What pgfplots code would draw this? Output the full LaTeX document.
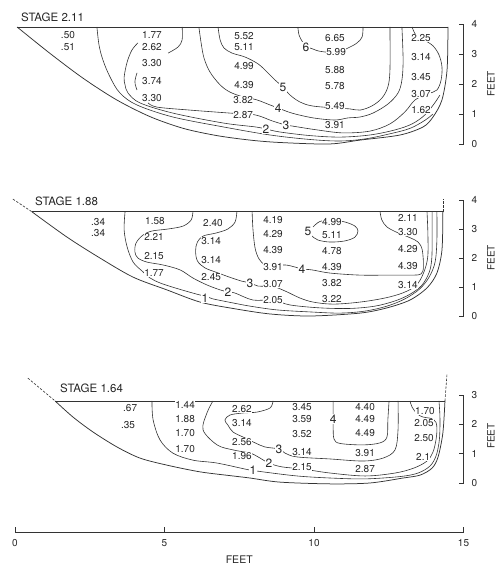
\documentclass[border=0pt]{standalone}
\usepackage{pgfplots}
\pgfplotsset{compat=1.18}
\usepackage{fontspec}
\setmainfont{TeX Gyre Heros}
\newcommand\valfont{\fontsize{10}{11}\selectfont}
\newcommand\cfont{\fontsize{12}{13}\selectfont}
\newcommand\tfont{\fontsize{11.5}{12}\selectfont}
\definecolor{ink}{gray}{0.2}
\definecolor{tink}{gray}{0.15}
\pgfplotsset{
  panel/.style={
    x=29.9pt, xmin=0, xmax=15, ymin=0,
    axis x line=none, axis y line*=right,
    clip=false, anchor=south west,
    tick align=inside, major tick length=5pt,
    tick style={ink, line width=0.6pt},
    axis line style={ink, line width=0.6pt},
    yticklabel style={font=\valfont, text=tink, xshift=4.5pt},
    /pgf/number format/assume math mode=true,
  },
  cont/.style={ink, line width=0.6pt, smooth, tension=0.55, mark=none},
  bedl/.style={ink, line width=0.75pt, smooth, tension=0.5, mark=none},
  surf/.style={ink, line width=0.8pt, mark=none},
  dsh/.style={ink, line width=0.6pt, dash pattern=on 2.5pt off 1.5pt, mark=none},
  vals/.style={draw=none, mark=none, nodes near coords, point meta=explicit symbolic,
     every node near coord/.append style={anchor=center, font=\valfont, text=tink, fill=white, inner sep=0.4pt}},
  clabs/.style={draw=none, mark=none, nodes near coords, point meta=explicit symbolic,
     every node near coord/.append style={anchor=center, font=\cfont, text=tink, fill=white, inner sep=0.6pt}},
}
\begin{document}
\begin{tikzpicture}
\useasboundingbox (0,0) rectangle (500pt,567pt);
\node[anchor=west, font=\tfont, text=tink, inner sep=0] at (21pt,550pt) {STAGE 2.11};
\node[anchor=west, font=\tfont, text=tink, inner sep=0] at (35pt,366pt) {STAGE 1.88};
\node[anchor=west, font=\tfont, text=tink, inner sep=0] at (60pt,179pt) {STAGE 1.64};

% ---------------- Panel 1: stage 2.11
\begin{axis}[panel, y=30pt, ymax=4, ytick={0,1,2,3,4}, at={(15pt,423pt)}]
\addplot[cont] coordinates {(2.74,3.9)(2.81,3.3)(2.94,2.8)(3.18,2.23)(3.51,1.7)(4.08,1.3)(5.28,0.9)(6.96,0.57)(8.53,0.3)(9.87,0.15)(10.87,0.1)(11.71,0.17)(12.54,0.34)(13.21,0.52)(13.71,0.79)(13.98,1.0)};
\addplot[cont] coordinates {(5.59,3.9)(5.59,3.47)(5.45,3.23)(5.12,3.03)};
\addplot[cont] coordinates {(4.11,3.37)(3.91,3.13)(3.75,2.73)(3.65,2.23)(3.68,1.97)(3.78,1.7)(4.18,1.37)(5.28,1.03)(6.96,0.7)(8.03,0.57)(8.39,0.5)(8.86,0.4)(9.87,0.28)(10.87,0.23)(11.87,0.3)(12.71,0.47)(13.28,0.67)(13.71,0.97)(14.01,1.33)(14.21,1.63)};
\addplot[cont] coordinates {(4.08,2.37)(4.01,2.07)(4.08,1.8)};
\addplot[cont] coordinates {(4.45,1.37)(4.75,1.23)(5.85,1.13)(7.19,1.03)(8.03,0.97)(8.60,0.77)(9.06,0.63)(9.26,0.6)(10.10,0.47)(10.97,0.37)(11.87,0.43)(12.54,0.67)(13.04,1.07)(13.38,1.47)(13.81,1.67)(14.11,1.8)(14.25,2.13)(14.28,2.57)(14.18,2.97)(13.98,3.27)(13.68,3.47)(13.41,3.63)(13.28,3.9)};
\addplot[cont] coordinates {(6.15,3.9)(6.22,3.4)(6.32,2.87)(6.52,2.4)(6.86,1.97)(7.19,1.73)(7.63,1.57)(8.09,1.47)(8.53,1.3)(8.80,1.2)(9.26,1.03)(9.97,0.87)(10.70,0.8)(11.14,0.87)(11.54,0.9)(11.97,1.03)(12.47,1.33)(12.81,1.7)(12.94,2.13)(12.98,2.8)(12.94,3.9)};
\addplot[cont] coordinates {(6.79,3.9)(6.86,3.47)(6.99,3.2)(7.26,3.03)(7.69,2.9)(8.13,2.67)(8.46,2.37)(8.70,2.13)(8.96,1.9)(9.20,1.63)(9.53,1.4)(9.93,1.27)(10.70,1.2)(11.20,1.17)(11.54,1.13)(11.94,1.27)(12.27,1.53)(12.47,1.9)(12.54,2.47)(12.54,3.9)};
\addplot[cont] coordinates {(9.46,3.9)(9.50,3.63)(9.60,3.43)(9.73,3.25)(9.93,3.18)(10.2,3.09)(10.74,3.05)(11.14,3.2)(11.44,3.37)(11.61,3.57)(11.64,3.9)};
\addplot[vals] table[meta=lab] {
x y lab
1.77 3.63 .50
1.77 3.23 .51
4.58 3.63 1.77
4.58 3.23 2.62
4.58 2.70 3.30
4.58 2.10 3.74
4.58 1.53 3.30
7.66 3.60 5.52
7.66 3.23 5.11
7.66 2.60 4.99
7.66 1.97 4.39
7.63 1.47 3.82
7.63 0.97 2.87
10.70 3.53 6.65
10.74 3.07 5.99
10.70 2.47 5.88
10.70 1.93 5.78
10.70 1.27 5.49
10.70 0.63 3.91
13.58 3.53 2.25
13.58 2.90 3.14
13.58 2.23 3.45
13.58 1.67 3.07
13.58 1.13 1.62
};
\addplot[clabs] table[meta=lab] {
x y lab
9.73 3.23 6
8.96 1.90 5
8.80 1.20 4
9.06 0.63 3
8.39 0.50 2
};
\addplot[surf] coordinates {(0.07,3.9)(14.48,3.9)};
\addplot[bedl] coordinates {(0.07,3.9)(1.17,3.02)(2.28,2.19)(3.40,1.47)(4.52,0.91)(5.63,0.52)(6.75,0.28)(7.86,0.13)(8.86,0.05)(10.5,0.0)(11.54,0.13)(12.88,0.3)(13.65,0.57)(13.98,0.9)(14.28,1.47)(14.45,2.47)(14.48,3.9)};
\node[rotate=90, font=\valfont, text=tink] at (axis cs:15.92,2) {FEET};
\end{axis}

% ---------------- Panel 2: stage 1.88
\begin{axis}[panel, y=29pt, ymax=4, ytick={0,1,2,3,4}, at={(15pt,251pt)}]
\addplot[cont] coordinates {(3.68,3.59)(3.65,2.97)(3.75,2.38)(3.95,1.86)(4.25,1.55)(4.52,1.31)(4.85,1.14)(5.35,0.97)(5.95,0.79)(6.42,0.66)(6.62,0.59)(7.29,0.45)(7.86,0.34)(8.76,0.21)(9.87,0.14)(10.87,0.10)(11.71,0.17)(12.44,0.34)(13.04,0.59)(13.53,0.93)(13.85,1.34)(14.05,1.86)(14.11,2.62)(14.11,3.59)};
\addplot[cont] coordinates {(5.95,3.59)(5.89,3.31)(5.62,3.10)(5.12,3.0)(4.58,2.93)(4.28,2.79)(4.05,2.52)(4.01,2.21)(4.11,2.0)(4.41,1.86)(4.95,1.76)(5.52,1.59)(5.95,1.31)(6.42,1.07)(6.86,0.90)(7.12,0.83)(7.36,0.79)(7.96,0.55)(8.63,0.55)(9.20,0.38)(10.20,0.28)(11.20,0.26)(12.04,0.34)(12.71,0.52)(13.21,0.75)(13.6,1.05)(13.85,1.5)(13.94,2.0)(13.95,2.97)(13.95,3.59)};
\addplot[cont] coordinates {(7.42,3.59)(7.36,3.24)(7.12,3.0)(6.72,2.86)(6.3,2.76)(6.1,2.55)(6.04,2.25)(6.1,1.9)(6.35,1.66)(6.75,1.5)(7.2,1.33)(7.59,1.2)(7.86,1.14)(8.13,1.03)(8.43,1.03)(8.70,1.0)(9.10,0.83)(9.53,0.62)(9.97,0.48)(10.64,0.41)(11.54,0.48)(12.37,0.62)(12.98,0.8)(13.41,1.05)(13.65,1.45)(13.8,2.0)(13.81,2.79)(13.78,3.59)};
\addplot[cont] coordinates {(7.93,3.59)(7.96,2.97)(8.03,2.34)(8.16,1.97)(8.36,1.76)(8.63,1.72)(9.03,1.76)(9.36,1.69)(9.60,1.62)(9.93,1.59)(10.54,1.48)(11.54,1.41)(12.54,1.41)(13.3,1.41)(13.58,1.45)(13.66,1.69)(13.62,2.28)(13.48,2.55)(13.21,2.70)(12.78,2.88)(12.44,3.07)(12.27,3.31)(12.21,3.59)};
\addplot[cont] coordinates {(9.97,3.07)(10.2,3.26)(10.6,3.31)(11.04,3.24)(11.37,3.10)(11.47,2.93)(11.37,2.72)(11.04,2.59)(10.54,2.55)(10.13,2.62)(9.93,2.76)};
\addplot[vals] table[meta=lab] {
x y lab
2.78 3.24 .34
2.78 2.86 .34
4.68 3.28 1.58
4.65 2.72 2.21
4.65 2.07 2.15
4.65 1.48 1.77
6.62 3.21 2.40
6.56 2.59 3.14
6.56 1.93 3.14
6.56 1.34 2.45
8.63 3.31 4.19
8.63 2.83 4.29
8.63 2.28 4.39
8.63 1.69 3.91
8.63 1.10 3.07
8.63 0.55 2.05
10.60 3.24 4.99
10.60 2.79 5.11
10.60 2.24 4.78
10.60 1.69 4.39
10.60 1.14 3.82
10.60 0.59 3.22
13.14 3.38 2.11
13.14 2.90 3.30
13.14 2.31 4.29
13.14 1.72 4.39
13.14 1.07 3.14
};
\addplot[clabs] table[meta=lab] {
x y lab
9.80 2.90 5
9.60 1.62 4
7.86 1.14 3
7.12 0.83 2
6.35 0.62 1
};
\addplot[surf] coordinates {(0.57,3.59)(14.31,3.59)};
\addplot[bedl] coordinates {(0.57,3.59)(1.74,2.72)(2.84,2.0)(3.95,1.34)(5.08,0.9)(6.19,0.48)(7.29,0.26)(8.53,0.07)(9.87,0.0)(11.54,0.1)(12.44,0.28)(13.21,0.55)(13.78,0.97)(14.11,1.48)(14.28,2.28)(14.31,3.59)};
\addplot[dsh] coordinates {(-0.07,4.03)(0.57,3.59)};
\addplot[dsh] coordinates {(14.31,3.59)(14.31,4.03)};
\node[rotate=90, font=\valfont, text=tink] at (axis cs:15.92,2) {FEET};
\end{axis}

% ---------------- Panel 3: stage 1.64
\begin{axis}[panel, y=29.3pt, ymax=3, ytick={0,1,2,3}, at={(15pt,84pt)}]
\addplot[cont] coordinates {(4.58,2.80)(4.62,2.15)(4.85,1.47)(5.28,1.02)(5.95,0.78)(6.76,0.68)(7.86,0.44)(8.29,0.38)(9.43,0.24)(10.54,0.17)(11.71,0.14)(12.88,0.22)(13.48,0.34)(13.88,0.58)(14.08,0.92)(14.18,1.37)(14.21,1.81)(14.21,2.32)(14.18,2.80)};
\addplot[cont] coordinates {(6.62,2.80)(6.42,2.39)(6.29,1.81)(6.76,1.30)(7.29,1.13)(7.86,1.02)(8.13,0.89)(8.49,0.68)(8.93,0.55)(9.60,0.48)(10.54,0.34)(11.71,0.24)(12.71,0.34)(13.34,0.51)(13.78,0.75)(13.98,1.06)(14.08,1.47)(14.11,1.81)(14.08,2.07)(13.92,2.2)(13.65,2.25)(13.45,2.36)(13.28,2.59)(13.21,2.80)};
\addplot[cont] coordinates {(8.63,2.80)(8.53,2.56)(8.09,2.42)(7.63,2.39)(7.19,2.32)(7.02,2.15)(7.12,1.98)(7.29,1.74)(7.69,1.54)(8.03,1.37)(8.36,1.23)(8.83,1.16)(9.03,1.02)(9.43,0.89)(10.54,0.82)(11.64,0.75)(12.31,0.85)(12.71,1.13)(12.81,1.81)(12.81,2.80)};
\addplot[cont] coordinates {(10.64,2.80)(10.64,2.39)(10.64,2.18)(10.64,1.91)(10.67,1.50)(10.87,1.35)(11.64,1.30)(12.21,1.37)(12.44,1.57)(12.47,2.15)(12.51,2.80)};
\addplot[vals] table[meta=lab] {
x y lab
3.85 2.56 .67
3.78 1.98 .35
5.69 2.66 1.44
5.69 2.18 1.88
5.69 1.71 1.70
5.69 1.16 1.70
7.59 2.53 2.62
7.59 2.05 3.14
7.59 1.40 2.56
7.59 0.92 1.96
9.60 2.59 3.45
9.60 2.18 3.59
9.60 1.67 3.52
9.60 1.06 3.14
9.60 0.55 2.15
11.71 2.59 4.40
11.71 2.18 4.49
11.71 1.71 4.49
11.71 1.02 3.91
11.71 0.48 2.87
13.71 2.46 1.70
13.68 2.05 2.05
13.68 1.54 2.50
13.65 0.89 2.1
};
\addplot[clabs] table[meta=lab] {
x y lab
10.64 2.18 4
8.83 1.16 3
8.49 0.68 2
7.96 0.44 1
};
\addplot[surf] coordinates {(1.34,2.80)(14.38,2.80)};
\addplot[bedl] coordinates {(1.34,2.80)(1.94,2.25)(2.61,1.74)(3.41,1.23)(4.18,0.85)(5.08,0.61)(6.19,0.38)(7.29,0.24)(7.86,0.17)(8.86,0.03)(10.54,-0.03)(11.87,0.0)(12.98,0.17)(13.55,0.27)(13.95,0.51)(14.15,0.89)(14.31,1.71)(14.38,2.80)};
\addplot[dsh] coordinates {(0.43,3.58)(1.34,2.80)};
\addplot[dsh] coordinates {(14.38,2.80)(14.45,3.75)};
\node[rotate=90, font=\valfont, text=tink] at (axis cs:15.92,1.6) {FEET};
\end{axis}

% ---------------- Bottom distance scale
\begin{axis}[x=29.9pt, y=10pt, xmin=0, xmax=15, ymin=0, ymax=1,
  axis x line*=bottom, axis y line=none, anchor=south west, at={(15pt,35pt)},
  xtick={0,5,10,15}, tick align=inside, major tick length=5pt,
  tick style={ink, line width=0.6pt}, axis line style={ink, line width=0.6pt},
  xticklabel style={font=\valfont, text=tink, yshift=-4pt},
  xlabel={FEET}, xlabel style={font=\fontsize{10.5}{11}\selectfont, text=tink, at={(axis description cs:0.5,0)}, anchor=center, yshift=-28pt},
  /pgf/number format/assume math mode=true]
\addplot[draw=none, mark=none] coordinates {(0,0)(15,1)};
\end{axis}
\end{tikzpicture}
\end{document}
